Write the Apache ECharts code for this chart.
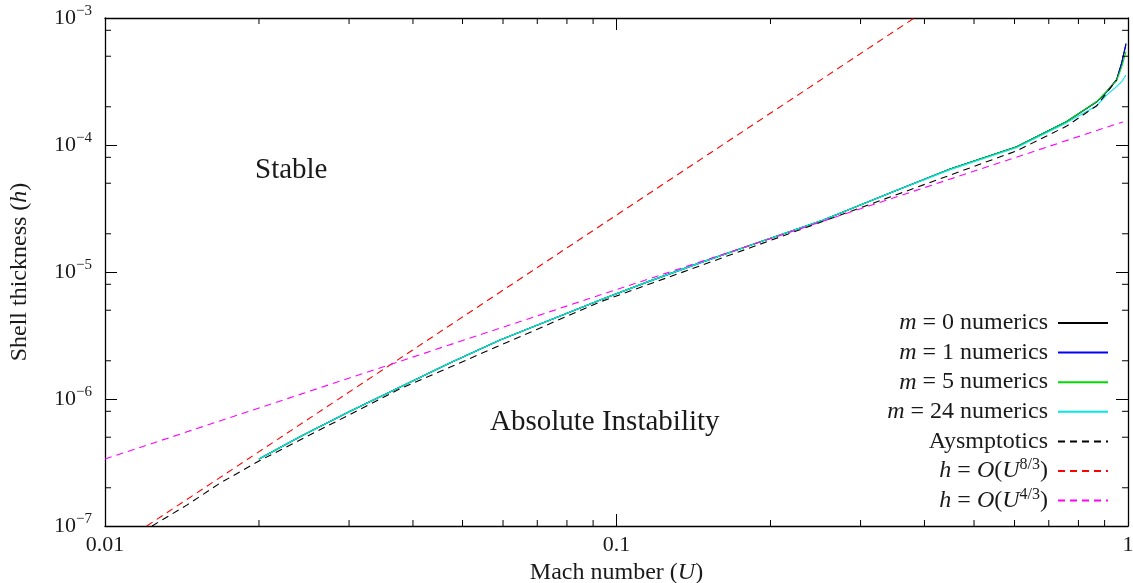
<!DOCTYPE html>
<html><head><meta charset="utf-8">
<script src="https://cdn.jsdelivr.net/npm/echarts@6/dist/echarts.min.js"></script>
<style>html,body{margin:0;padding:0;background:#fff}#c{width:1133px;height:583px}</style>
</head><body><div id="c"></div>
<script>
const FONT = '"Liberation Serif", "Times New Roman", serif';
const TXT = '#1a1a1a';

// ---- axis ticks / labels ----
const xTickLabels = ['0.01', '0.1', '1'];
const yTickExponents = ['\u22127', '\u22126', '\u22125', '\u22124', '\u22123'];
const xMinorTicks = [0.02, 0.03, 0.04, 0.05, 0.06, 0.07, 0.08, 0.09, 0.2, 0.3, 0.4, 0.5, 0.6, 0.7, 0.8, 0.9];
const yMinorTicks = [2e-7, 5e-7, 8e-7, 2e-6, 5e-6, 8e-6, 2e-5, 5e-5, 8e-5, 2e-4, 5e-4, 8e-4];

// ---- numerics (Mach number U, shell thickness h) ----
const uNum = [0.02, 0.024, 0.03, 0.0377, 0.047, 0.0592, 0.075, 0.0929, 0.115, 0.1456, 0.188, 0.253, 0.3425, 0.449, 0.606, 0.759, 0.869, 0.909, 0.95, 0.972, 0.991];
const hM0  = [3.37e-7, 5.02e-7, 7.94e-7, 1.24e-6, 1.90e-6, 2.92e-6, 4.27e-6, 6.03e-6, 8.36e-6, 1.18e-5, 1.69e-5, 2.56e-5, 4.19e-5, 6.46e-5, 9.70e-5, 1.53e-4, 2.19e-4, 2.64e-4, 3.27e-4, 4.45e-4, 6.20e-4];
const hM1  = [3.37e-7, 5.02e-7, 7.94e-7, 1.24e-6, 1.90e-6, 2.92e-6, 4.27e-6, 6.03e-6, 8.36e-6, 1.18e-5, 1.69e-5, 2.56e-5, 4.19e-5, 6.46e-5, 9.70e-5, 1.53e-4, 2.19e-4, 2.63e-4, 3.25e-4, 4.40e-4, 6.32e-4];
const hM5  = [3.37e-7, 5.02e-7, 7.94e-7, 1.24e-6, 1.90e-6, 2.92e-6, 4.27e-6, 6.03e-6, 8.36e-6, 1.18e-5, 1.69e-5, 2.56e-5, 4.19e-5, 6.46e-5, 9.70e-5, 1.53e-4, 2.20e-4, 2.66e-4, 3.22e-4, 4.10e-4, 5.43e-4];
const hM24 = [3.37e-7, 5.02e-7, 7.94e-7, 1.24e-6, 1.90e-6, 2.92e-6, 4.27e-6, 6.03e-6, 8.36e-6, 1.18e-5, 1.69e-5, 2.56e-5, 4.19e-5, 6.40e-5, 9.55e-5, 1.50e-4, 2.04e-4, 2.48e-4, 2.88e-4, 3.15e-4, 3.56e-4];

// ---- asymptotics ----
const uAsym = [0.01236, 0.01445, 0.0168, 0.02, 0.0377, 0.0929, 0.188, 0.3425, 0.606, 0.759, 0.869, 0.95];
const hAsym = [1e-7, 1.46e-7, 2.18e-7, 3.25e-7, 1.20e-6, 5.82e-6, 1.62e-5, 3.89e-5, 9.0e-5, 1.41e-4, 2.04e-4, 3.25e-4];

// ---- power laws (end points) ----
const uPow83 = [0.01207, 0.382];
const hPow83 = [1e-7, 1e-3];
const uPow43 = [0.01, 0.977];
const hPow43 = [3.37e-7, 1.52e-4];

const X_MIN = 0.01, X_MAX = 1, Y_MIN = 1e-7, Y_MAX = 1e-3;

const names = ['m = 0 numerics', 'm = 1 numerics', 'm = 5 numerics', 'm = 24 numerics', 'Aysmptotics', 'h = O(U^(8/3))', 'h = O(U^(4/3))'];
const legendText = {
  'm = 0 numerics': '{i|m} = 0 numerics',
  'm = 1 numerics': '{i|m} = 1 numerics',
  'm = 5 numerics': '{i|m} = 5 numerics',
  'm = 24 numerics': '{i|m} = 24 numerics',
  'Aysmptotics': 'Aysmptotics',
  'h = O(U^(8/3))': '{i|h} = {i|O}({i|U}{sup|8/3})',
  'h = O(U^(4/3))': '{i|h} = {i|O}({i|U}{sup|4/3})'
};

const zip = (u, h) => u.map((v, i) => [v, h[i]]);

function lineSeries(name, u, h, color, dashed) {
  return {
    type: 'line', name: name, data: zip(u, h), symbol: 'none', showSymbol: false,
    smooth: false,
    lineStyle: { color: color, width: 1.1, type: dashed ? [7, 5] : 'solid' },
    itemStyle: { color: color },
    emphasis: { disabled: true }, animation: false, clip: true
  };
}

function tickRender(isX) {
  return function (params, api) {
    const v = api.value(isX ? 0 : 1);
    const L = 6;
    if (isX) {
      const b = api.coord([v, Y_MIN]), t = api.coord([v, Y_MAX]);
      return { type: 'group', children: [
        { type: 'line', shape: { x1: b[0], y1: b[1], x2: b[0], y2: b[1] - L }, style: { stroke: '#000', lineWidth: 1 } },
        { type: 'line', shape: { x1: t[0], y1: t[1], x2: t[0], y2: t[1] + L }, style: { stroke: '#000', lineWidth: 1 } }
      ]};
    } else {
      const l = api.coord([X_MIN, v]), r = api.coord([X_MAX, v]);
      return { type: 'group', children: [
        { type: 'line', shape: { x1: l[0], y1: l[1], x2: l[0] + L, y2: l[1] }, style: { stroke: '#000', lineWidth: 1 } },
        { type: 'line', shape: { x1: r[0], y1: r[1], x2: r[0] - L, y2: r[1] }, style: { stroke: '#000', lineWidth: 1 } }
      ]};
    }
  };
}

const axisLineStyle = { show: true, onZero: false, lineStyle: { color: '#000', width: 1.3 } };
const axisTickStyle = { show: true, inside: true, length: 12, lineStyle: { color: '#000', width: 1 } };

const chart = echarts.init(document.getElementById('c'), null, { renderer: 'canvas' });
chart.setOption({
  animation: false,
  backgroundColor: '#fff',
  grid: { left: 105, right: 5, top: 18, bottom: 57, containLabel: false, outerBoundsMode: 'none' },
  xAxis: [
    {
      type: 'log', logBase: 10, min: X_MIN, max: X_MAX, position: 'bottom',
      axisLine: axisLineStyle, axisTick: axisTickStyle, splitLine: { show: false }, minorTick: { show: false },
      axisLabel: {
        margin: 8, fontFamily: FONT, fontSize: 22, color: TXT,
        formatter: (v, i) => xTickLabels[i]
      },
      name: 'Mach number ({i|U})', nameLocation: 'middle', nameGap: 30,
      nameTextStyle: { fontFamily: FONT, fontSize: 24, color: TXT,
        rich: { i: { fontFamily: FONT, fontSize: 24, fontStyle: 'italic', color: TXT } } }
    },
    {
      type: 'log', logBase: 10, min: X_MIN, max: X_MAX, position: 'top',
      axisLine: axisLineStyle, axisTick: axisTickStyle, splitLine: { show: false },
      axisLabel: { show: false }
    }
  ],
  yAxis: [
    {
      type: 'log', logBase: 10, min: Y_MIN, max: Y_MAX, position: 'left',
      axisLine: axisLineStyle, axisTick: axisTickStyle, splitLine: { show: false }, minorTick: { show: false },
      axisLabel: {
        margin: 13, fontFamily: FONT, fontSize: 22, color: TXT, lineHeight: 28,
        formatter: (v, i) => '10{sup|' + yTickExponents[i] + '}',
        rich: { sup: { fontFamily: FONT, fontSize: 15, color: TXT, verticalAlign: 'top', lineHeight: 14 } }
      },
      name: 'Shell thickness ({i|h})', nameLocation: 'middle', nameGap: 73,
      nameTextStyle: { fontFamily: FONT, fontSize: 24, color: TXT,
        rich: { i: { fontFamily: FONT, fontSize: 24, fontStyle: 'italic', color: TXT } } }
    },
    {
      type: 'log', logBase: 10, min: Y_MIN, max: Y_MAX, position: 'right',
      axisLine: axisLineStyle, axisTick: axisTickStyle, splitLine: { show: false },
      axisLabel: { show: false }
    }
  ],
  legend: {
    data: names, orient: 'vertical', right: 24, top: 309, padding: 0,
    align: 'right', itemWidth: 50, itemHeight: 14, itemGap: 1.6,
    selectedMode: false,
    itemStyle: { opacity: 0, borderWidth: 0 },
    formatter: n => legendText[n],
    textStyle: {
      fontFamily: FONT, fontSize: 24, color: TXT, lineHeight: 28, padding: [0, 5, 0, 0],
      rich: {
        i: { fontFamily: FONT, fontSize: 24, fontStyle: 'italic', color: TXT, lineHeight: 28 },
        sup: { fontFamily: FONT, fontSize: 16, color: TXT, verticalAlign: 'top', lineHeight: 13 }
      }
    }
  },
  graphic: [
    { type: 'text', x: 255, y: 170, silent: true,
      style: { text: 'Stable', font: '29px ' + FONT, fill: TXT, textVerticalAlign: 'middle', verticalAlign: 'middle' } },
    { type: 'text', x: 490, y: 422, silent: true,
      style: { text: 'Absolute Instability', font: '29px ' + FONT, fill: TXT, textVerticalAlign: 'middle', verticalAlign: 'middle' } }
  ],
  series: [
    lineSeries(names[0], uNum, hM0, '#000000', false),
    lineSeries(names[1], uNum, hM1, '#0000ff', false),
    lineSeries(names[2], uNum, hM5, '#00dd00', false),
    lineSeries(names[3], uNum, hM24, '#00e8e8', false),
    lineSeries(names[4], uAsym, hAsym, '#000000', true),
    lineSeries(names[5], uPow83, hPow83, '#ff0000', true),
    lineSeries(names[6], uPow43, hPow43, '#ff00ff', true),
    { type: 'custom', name: 'xMinor', silent: true, clip: false, z: 5,
      data: xMinorTicks.map(v => [v, Y_MIN]), renderItem: tickRender(true) },
    { type: 'custom', name: 'yMinor', silent: true, clip: false, z: 5,
      data: yMinorTicks.map(v => [X_MIN, v]), renderItem: tickRender(false) }
  ]
});
</script>
</body></html>
